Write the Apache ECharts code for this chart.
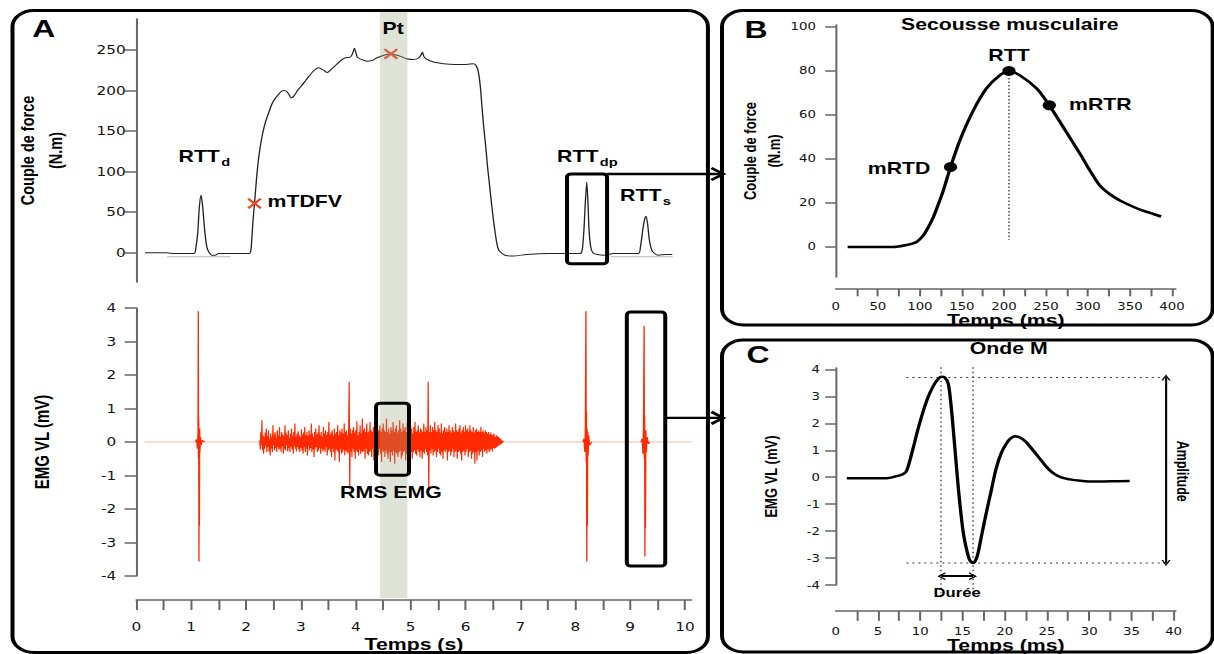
<!DOCTYPE html>
<html><head><meta charset="utf-8">
<script src="https://cdn.jsdelivr.net/npm/echarts@6/dist/echarts.min.js"></script>
<style>
html,body{margin:0;padding:0;background:#fff;overflow:hidden;width:1214px;height:654px}
#c{width:913px;height:654px;transform:scaleX(1.32968);transform-origin:0 0;}
</style></head><body><div id="c"></div>
<script>
// ---------- Panel A (top): torque trace ----------
const forceTime = [0.16,0.55,0.7,1.05,1.09,1.12,1.15,1.18,1.21,1.25,1.29,1.33,1.38,1.44,1.5,2.06,2.09,2.11,2.13,2.155,2.18,2.2,2.23,2.26,2.3,2.35,2.41,2.47,2.53,2.59,2.65,2.70,2.75,2.79,2.82,2.87,2.95,3.05,3.14,3.23,3.32,3.41,3.48,3.55,3.65,3.73,3.8,3.9,3.94,3.975,4.0,4.03,4.11,4.2,4.3,4.38,4.5,4.62,4.72,4.82,4.93,5.05,5.15,5.19,5.215,5.24,5.28,5.42,5.6,5.8,6.02,6.14,6.19,6.23,6.27,6.3,6.33,6.37,6.40,6.44,6.48,6.51,6.54,6.57,6.60,6.65,6.72,6.87,7.12,7.54,8.09,8.13,8.16,8.18,8.21,8.235,8.25,8.28,8.32,8.4,8.52,8.7,9.15,9.19,9.23,9.26,9.29,9.32,9.35,9.39,9.43,9.51,9.66,9.77];
const forceValue = [0,0,-1,-1,8,25,57,71,57,25,6,0,-3,-3,-1,-1,4,22,42,61,82,98,117,131,146,160,172,183,190,195,199,200,198,194,191,193,201,209,217,224,228,225,222,226,232,237,240,241,245,252,247,241,238,236,237,240,243,245,244,242,239,238,240,244,247,242,239,235,233,232,232,233,231,224,205,180,156,130,107,82,57,40,25,12,4,0,-3,-4,-2,-1,-1,5,30,57,87,57,30,8,0,-2,-3,-1,-1,8,28,40,45,35,16,4,0,-3,-2,-2];
const refBaselineStart = [0.56, 8.65];
const refBaselineEnd = [1.71, 9.78];
const refBaselineLevel = -5;
const crossTime = [2.155, 4.64];
const crossValue = [60.8, 245];
const ptBand = [4.44, 4.94];

// ---------- Panel A (bottom): EMG ----------
const emgBaselineTime = [0.15, 10.12];
const spike1Time = [1.08,1.10,1.115,1.125,1.13,1.134,1.138,1.142,1.146,1.15,1.155,1.16,1.17,1.18,1.2,1.25];
const spike1Value = [0,0.08,-0.2,0.3,3.9,-0.5,0.75,-3.57,0.3,-2.5,0.4,-0.3,0.15,-0.1,0.05,0];
const spike2Time = [8.14,8.16,8.175,8.185,8.195,8.2,8.205,8.21,8.215,8.22,8.228,8.235,8.245,8.26,8.3];
const spike2Value = [0,0.1,-0.3,0.5,3.9,-0.6,0.9,-3.57,0.4,-2.5,0.3,-0.4,0.2,-0.1,0];
const spike3Time = [9.2,9.22,9.235,9.245,9.255,9.26,9.265,9.27,9.275,9.28,9.288,9.295,9.31,9.33,9.36];
const spike3Value = [0,0.1,-0.35,0.6,3.46,-0.5,0.8,-3.42,0.3,-2.57,0.35,-0.3,0.15,-0.05,0];
const burstStart = 2.25, burstStep = 0.01;
const burstValue = [
 0.05,-0.22,0.3,-0.1,0.65,-0.25,0.2,-0.35,0.15,-0.2,
 0.28,-0.12,0.4,-0.3,0.18,-0.15,0.35,-0.28,0.1,-0.4,
 0.25,-0.2,0.15,-0.3,0.5,-0.1,0.22,-0.25,0.3,-0.18,
 0.12,-0.3,0.35,-0.15,0.2,-0.22,0.45,-0.2,0.15,-0.3,
 0.3,-0.12,0.22,-0.35,0.18,-0.2,0.5,-0.25,0.28,-0.1,
 0.2,-0.28,0.35,-0.18,0.12,-0.3,0.25,-0.15,0.4,-0.22,
 0.18,-0.35,0.3,-0.12,0.55,-0.2,0.15,-0.28,0.25,-0.15,
 0.32,-0.22,0.2,-0.3,0.15,-0.18,0.38,-0.25,0.22,-0.35,
 0.28,-0.15,0.45,-0.3,0.2,-0.2,0.3,-0.4,0.18,-0.12,
 0.35,-0.25,0.22,-0.18,0.55,-0.3,0.25,-0.22,0.15,-0.45,
 0.3,-0.2,0.4,-0.15,0.22,-0.3,0.28,-0.25,0.5,-0.18,
 0.2,-0.35,0.3,-0.2,0.15,-0.28,0.45,-0.22,0.25,-0.3,
 0.35,-0.15,0.2,-0.4,0.3,-0.25,0.6,-0.2,0.22,-0.3,
 0.28,-0.45,0.35,-0.2,0.18,-0.3,0.4,-0.55,0.25,-0.22,
 0.3,-0.25,0.5,-0.3,0.2,-0.6,0.35,-0.2,0.28,-0.35,
 0.4,-0.3,0.25,-0.22,0.55,-0.4,0.3,-0.25,0.35,-0.3,
 0.2,-0.35,0.3,1.8,-1.4,0.4,-0.3,0.25,-0.45,0.35,
 -0.2,0.45,-0.3,0.28,-0.5,0.35,-0.25,0.62,-0.3,0.2,
 -0.4,0.3,-0.22,0.5,-0.35,0.25,-0.28,0.7,-0.3,0.35,
 -0.25,0.4,-0.5,0.3,-0.2,0.55,-0.35,0.28,-0.4,0.32,
 -0.3,0.6,-0.25,0.35,-0.45,0.3,-0.2,0.45,-0.55,0.25,
 -0.3,0.4,-0.35,0.65,-0.25,0.3,-0.4,0.35,-0.2,0.5,
 -0.35,0.3,-0.6,0.4,-0.25,0.55,-0.3,0.35,-0.45,0.3,
 -0.25,0.7,-0.35,0.3,-0.5,0.4,-0.3,0.25,-0.6,0.45,
 -0.3,0.35,-0.4,0.6,-0.25,0.3,-0.65,0.4,-0.3,0.5,
 -0.35,0.28,-0.45,0.35,-0.3,0.65,-0.25,0.4,-0.5,0.3,
 -0.4,0.55,-0.3,0.35,-0.25,0.45,-0.55,0.3,-0.35,0.6,
 -0.3,0.35,-0.45,0.3,-0.2,0.5,-0.3,0.4,-0.5,0.25,
 -0.3,0.45,-0.25,0.6,-0.35,0.3,-0.4,0.35,-0.22,0.5,
 -0.3,0.28,-0.45,0.4,-0.25,0.35,-0.5,0.3,-0.3,0.55,
 -0.35,0.3,-0.22,0.45,-0.3,0.35,-0.4,1.8,-1.4,0.3,
 -0.25,0.5,-0.35,0.3,-0.2,0.45,-0.4,0.35,-0.3,0.6,
 -0.25,0.35,-0.45,0.3,-0.3,0.5,-0.2,0.4,-0.35,0.28,
 -0.4,0.55,-0.3,0.25,-0.5,0.35,-0.25,0.45,-0.3,0.3,
 -0.22,0.4,-0.55,0.3,-0.3,0.5,-0.25,0.35,-0.4,0.28,
 -0.3,0.45,-0.2,0.35,-0.45,0.3,-0.3,0.55,-0.25,0.35,
 -0.5,0.3,-0.3,0.4,-0.25,0.5,-0.35,0.28,-0.55,0.35,
 -0.3,0.45,-0.25,0.3,-0.4,0.5,-0.3,0.35,-0.2,0.4,
 -0.45,0.3,-0.3,0.5,-0.25,0.35,-0.5,0.3,-0.35,0.45,
 -0.3,0.28,-0.65,0.35,-0.3,0.4,-0.55,0.3,-0.25,0.35,
 -0.4,0.3,-0.3,0.45,-0.25,0.3,-0.45,0.35,-0.2,0.28,
 -0.3,0.35,-0.25,0.3,-0.35,0.25,-0.2,0.3,-0.3,0.22,
 -0.25,0.28,-0.2,0.22,-0.28,0.2,-0.18,0.25,-0.2,0.15,
 -0.18,0.2,-0.15,0.18,-0.12,0.15,-0.1,0.12,-0.08,0.1,
 -0.06,0.05,-0.03,0.02,0];
const aTicks = [0,0.5,1,1.5,2,2.5,3,3.5,4,4.5,5,5.5,6,6.5,7,7.5,8,8.5,9,9.5,10];
const aLabels = [0,1,2,3,4,5,6,7,8,9,10];
const torqueTicks = [0,50,100,150,200,250];
const emgTicks = [-4,-3,-2,-1,0,1,2,3,4];
// boxes: [grid, t1, t2, v1, v2]
const boxRTTdp = [0, 7.85, 8.58, 97, -13.5];
const boxRMS = [1, 4.37, 4.97, 1.16, -0.99];
const boxMwave = [1, 8.94, 9.64, 3.88, -3.7];
const mwaveLinkLevel = 0.72;

// ---------- Panel B: twitch ----------
const twitchTime = [14,40,68,85,96,104,110,116,122,128,136.5,147.6,163.5,179,195,206,219,239,254,270.6,290.5,302,314,326,338,350,362,374,387];
const twitchValue = [0,0,0,1,2.3,5.3,9,13.6,19.5,25.8,36.4,48.5,62,72,78,80,78,72,64.4,54.5,42.4,35,28,24,21.2,19,17,15.5,13.9];
const twitchPointTime = [136.5, 206, 254];
const twitchPointValue = [36.4, 80, 64.4];
const rttGuideTime = 206, rttGuideFrom = 80, rttGuideTo = 3.3;
const bTicks = [25,50,75,100,125,150,175,200,225,250,275,300,325,350,375,400];
const bLabels = [0,50,100,150,200,250,300,350,400];
const bYTicks = [0,20,40,60,80,100];

// ---------- Panel C: M wave ----------
const mwaveTime = [1.3,4,6,7.2,8.0,8.4,9.15,9.7,10.3,10.9,11.5,12.0,12.5,12.9,13.3,13.6,13.9,14.2,14.5,14.8,15.1,15.5,15.8,16.05,16.3,16.6,16.85,17.3,17.8,18.4,19.0,19.6,20.2,20.7,21.2,21.8,22.5,23.3,24.1,24.9,25.7,26.6,27.7,29,30.4,32.5,34.8];
const mwaveValue = [-0.04,-0.04,-0.04,0.04,0.12,0.25,1.07,1.75,2.4,2.95,3.36,3.6,3.73,3.7,3.48,2.8,1.8,0.7,-0.38,-1.3,-2.07,-2.7,-3.04,-3.15,-3.18,-3.05,-2.8,-2.1,-1.35,-0.5,0.34,0.9,1.25,1.44,1.52,1.47,1.31,1.02,0.71,0.4,0.16,0.0,-0.08,-0.13,-0.16,-0.15,-0.14];
const peakLevel = 3.7, troughLevel = -3.18, guideFromT = 8.36, guideToT = 39.1;
const peakTime = 12.45, troughTime = 16.25, vGuideTop = 4.08, vGuideBottom = -4.3;
const amplitudeArrowT = 39.1;
const dureeLevel = -3.67, dureeFrom = 12.5, dureeTo = 16.25;
const cTicks = [2.5,5,7.5,10,12.5,15,17.5,20,22.5,25,27.5,30,32.5,35,37.5,40];
const cLabels = [0,5,10,15,20,25,30,35,40];

// ---------- annotations [text, x, y] ----------
const annotA = [['{m|Pt}',4.68,274.6],['{m|RTT}{s|d}',1.24,117],['{m|mTDFV}',3.07,61.6],['{m|RTT}{s|dp}',8.22,117],['{m|RTT}{s|s}',9.28,69]];
const annotA2 = [['{m|RMS EMG}',4.64,-1.55]];
const annotB = [['{m|RTT}',206,86.4],['{m|mRTR}',314.8,64.5],['{m|mRTD}',75.3,35.3]];
const annotC = [['Durée',14.36,-4.28,0],['Amplitude',41.1,0.22,-90]];

// ---------- build ----------
const zip = (a,b) => a.map((v,i)=>[v,b[i]]);
const FT = 'DejaVu Sans', FB = 'Liberation Sans', AX = '#666', INK = '#000';
const RED = '#ff2a00';
const chev = 'path://M0,10L5,0L10,10L8.2,10L5,3.4L1.8,10Z';
const crossSym = 'path://M0,1.3L1.3,0L5,3.7L8.7,0L10,1.3L6.3,5L10,8.7L8.7,10L5,6.3L1.3,10L0,8.7L3.7,5Z';

function mkX(gi, max, ticks, labels, tickLen, margin, offset, name, nameGap, fs){
  return {type:'value', gridIndex:gi, min:0, max:max, offset:offset,
    axisLine:{show:true,onZero:false,lineStyle:{color:AX,width:1.5}},
    axisTick:{show:true,customValues:ticks,length:tickLen,lineStyle:{color:AX,width:1.5}},
    axisLabel:{customValues:labels,margin:margin,fontSize:fs,fontFamily:FT,color:'#111'},
    splitLine:{show:false},
    name:name,nameLocation:'middle',nameGap:nameGap,
    nameTextStyle:{fontFamily:FB,fontWeight:'bold',fontSize:16,color:INK}};
}
function mkY(gi, min, max, ticks, tickLen, margin, name, nameGap, nfs, lh, fs){
  return {type:'value', gridIndex:gi, min:min, max:max,
    axisLine:{show:true,onZero:false,lineStyle:{color:AX,width:1.5}},
    axisTick:{show:true,customValues:ticks,length:tickLen,lineStyle:{color:AX,width:1.5}},
    axisLabel:{customValues:ticks,margin:margin,fontSize:fs,fontFamily:FT,color:'#111'},
    splitLine:{show:false},
    name:name,nameLocation:'middle',nameRotate:90,nameGap:nameGap,
    nameTextStyle:{fontFamily:FB,fontWeight:'bold',fontSize:nfs,lineHeight:lh,color:INK,align:'center'}};
}
const richStyle = {
  m:{fontFamily:FB,fontWeight:'bold',fontSize:16,color:INK,lineHeight:18,verticalAlign:'top'},
  s:{fontFamily:FB,fontWeight:'bold',fontSize:11,color:INK,lineHeight:11,verticalAlign:'top',padding:[8,0,0,1]}
};
function labelSeries(xi, list, extra){
  return {type:'scatter', xAxisIndex:xi, yAxisIndex:xi, symbolSize:0, silent:true, clip:false, z:20,
    itemStyle:{opacity:1},
    data:list.map(d=>({value:[d[1],d[2]], label:Object.assign({show:true,position:'inside',formatter:d[0],rich:richStyle,rotate:d[3]||0,opacity:1}, extra||{})}))};
}
function lineS(xi, data, color, width, extra){
  return Object.assign({type:'line', xAxisIndex:xi, yAxisIndex:xi, data:data, showSymbol:false, symbol:'none', silent:true, animation:false, clip:false,
    lineStyle:{color:color,width:width}}, extra||{});
}
const dotted = {color:'#333',width:1,type:[1.5,3]};

const burstData = burstValue.map((v,i)=>[burstStart + i*burstStep, v]);
const series = [
  lineS(0, zip(forceTime, forceValue), '#222', 1, {smooth:0.25, z:3}),
  ...refBaselineStart.map((s,i)=>lineS(0, [[s,refBaselineLevel],[refBaselineEnd[i],refBaselineLevel]], '#b8b8b8', 1)),
  {type:'scatter', xAxisIndex:0, yAxisIndex:0, symbol:crossSym, symbolSize:11, silent:true, z:5,
   itemStyle:{color:'#ee4526',opacity:1}, data:zip(crossTime, crossValue)},
  lineS(1, emgBaselineTime.map(t=>[t,0]), '#ffb4a8', 1.2),
  lineS(1, zip(spike1Time, spike1Value), RED, 1),
  lineS(1, burstData, RED, 0.9),
  lineS(1, zip(spike2Time, spike2Value), RED, 1),
  lineS(1, zip(spike3Time, spike3Value), RED, 1),
  lineS(2, zip(twitchTime, twitchValue), '#000', 2.5, {smooth:0.3}),
  lineS(2, [[rttGuideTime,rttGuideFrom],[rttGuideTime,rttGuideTo]], '#333', 1, {lineStyle:{color:'#333',width:1,type:[1.5,2]}}),
  {type:'scatter', xAxisIndex:2, yAxisIndex:2, symbol:'circle', symbolSize:10, silent:true, z:6,
   itemStyle:{color:'#000',opacity:1}, data:zip(twitchPointTime, twitchPointValue)},
  lineS(3, zip(mwaveTime, mwaveValue), '#000', 2.5, {smooth:0.35, z:4}),
  lineS(3, [[guideFromT,peakLevel],[guideToT,peakLevel]], '#333', 1, {lineStyle:dotted}),
  lineS(3, [[guideFromT,troughLevel],[guideToT,troughLevel]], '#333', 1, {lineStyle:dotted}),
  lineS(3, [[peakTime,vGuideTop],[peakTime,vGuideBottom]], '#333', 1, {lineStyle:dotted,
    markLine:{silent:true, animation:false, symbol:[chev,chev], symbolSize:[7,6], label:{show:false},
      lineStyle:{type:'solid',color:INK,width:1.6},
      data:[[{coord:[amplitudeArrowT,peakLevel]},{coord:[amplitudeArrowT,troughLevel]}]]}}),
  lineS(3, [[troughTime,vGuideTop],[troughTime,vGuideBottom]], '#333', 1, {lineStyle:dotted,
    markLine:{silent:true, animation:false, symbol:[chev,chev], symbolSize:[8,6], label:{show:false},
      lineStyle:{type:'solid',color:INK,width:1.8},
      data:[[{coord:[dureeFrom,dureeLevel]},{coord:[dureeTo,dureeLevel]}]]}}),
  labelSeries(0, annotA),
  labelSeries(1, annotA2),
  labelSeries(2, annotB),
  labelSeries(3, annotC, {fontFamily:FB, fontWeight:'bold', fontSize:12.5, color:INK}),
];

const chart = echarts.init(document.getElementById('c'), null, {renderer:'svg', width:913, height:654});
chart.setOption({
  animation:false,
  backgroundColor:'#fff',
  title:[
    {text:'Secousse musculaire', left:759.4, top:16, textAlign:'center', padding:0,
     textStyle:{fontFamily:FB,fontWeight:'bold',fontSize:16,color:INK}},
    {text:'Onde M', left:758.6, top:340, textAlign:'center', padding:0,
     textStyle:{fontFamily:FB,fontWeight:'bold',fontSize:16,color:INK}}
  ],
  grid:[
    {left:102.5, top:19, width:417.6, height:263},
    {left:102.5, top:308, width:417.6, height:268},
    {left:628.6, top:25, width:255.6, height:252},
    {left:628.6, top:368, width:255.6, height:222}
  ],
  xAxis:[
    {type:'value', gridIndex:0, min:0, max:10.12, show:false},
    mkX(1, 10.12, aTicks, aLabels, 10, 21, 24, 'Temps (s)', 36, 11.5),
    mkX(2, 404.4, bTicks, bLabels, 7.3, 13, 12, 'Temps (ms)', 21, 10),
    mkX(3, 40.25, cTicks, cLabels, 9.7, 15, 26, 'Temps (ms)', 23, 10)
  ],
  yAxis:[
    mkY(0, -36, 288, torqueTicks, 8.8, 8, 'Couple de force\n(N.m)', 50, 14.5, 21, 11.5),
    mkY(1, -4, 4, emgTicks, 8.8, 15, 'EMG VL (mV)', 62, 15, 18, 11.5),
    mkY(2, -13.6, 100.9, bYTicks, 8, 15, 'Couple de force\n(N.m)', 38, 13, 18, 10),
    mkY(3, -4, 4.05, emgTicks, 8, 12, 'EMG VL (mV)', 41, 13, 16, 10)
  ],
  series:series
});

// ---------- overlays positioned through the axes ----------
const px = (gi, x, y) => chart.convertToPixel({gridIndex:gi}, [x, y]);
const g = [];
const b1 = px(1, ptBand[0], 0)[0], b2 = px(1, ptBand[1], 0)[0];
g.push({type:'rect', z:10, silent:true, shape:{x:b1, y:10, width:b2-b1, height:588}, style:{fill:'rgba(150,158,120,0.3)'}});
const boxRect = (b) => { const p1 = px(b[0], b[1], b[3]), p2 = px(b[0], b[2], b[4]); return {x:p1[0], y:p1[1], w:p2[0]-p1[0], h:p2[1]-p1[1]}; };
[boxRTTdp, boxRMS, boxMwave].forEach(b => { const r = boxRect(b);
  g.push({type:'rect', z:12, silent:true, shape:{x:r.x, y:r.y, width:r.w, height:r.h, r:3}, style:{fill:'none', stroke:'#000', lineWidth:3}}); });
const tipX = 544;
const r1 = boxRect(boxRTTdp);
const yLink2 = px(1, boxMwave[2], mwaveLinkLevel)[1];
const r3 = boxRect(boxMwave);
[[r1.x + r1.w, r1.y], [r3.x + r3.w, yLink2]].forEach(p => {
  g.push({type:'line', z:12, silent:true, shape:{x1:p[0], y1:p[1], x2:tipX-1, y2:p[1]}, style:{stroke:'#000', lineWidth:2.4}});
  g.push({type:'polyline', z:12, silent:true, shape:{points:[[tipX-9, p[1]-6],[tipX, p[1]],[tipX-9, p[1]+6]]}, style:{stroke:'#000', lineWidth:2.6, fill:'none'}});
});
g.push({type:'rect', z:13, silent:true, shape:{x:9.4, y:10.5, width:523, height:642, r:16}, style:{fill:'none', stroke:'#000', lineWidth:3}});
g.push({type:'rect', z:13, silent:true, shape:{x:543, y:10.5, width:369, height:314.5, r:16}, style:{fill:'none', stroke:'#000', lineWidth:3}});
g.push({type:'rect', z:13, silent:true, shape:{x:543, y:340, width:369, height:312, r:16}, style:{fill:'none', stroke:'#000', lineWidth:3}});
[['A',33,29],['B',568.5,30],['C',570,355]].forEach(l => g.push({type:'text', z:14, silent:true,
  style:{text:l[0], x:l[1], y:l[2], align:'center', verticalAlign:'middle', fontFamily:FB, fontWeight:'bold', fontSize:24, fill:'#000'}}));
chart.setOption({graphic:{elements:g}});
</script>
</body></html>
